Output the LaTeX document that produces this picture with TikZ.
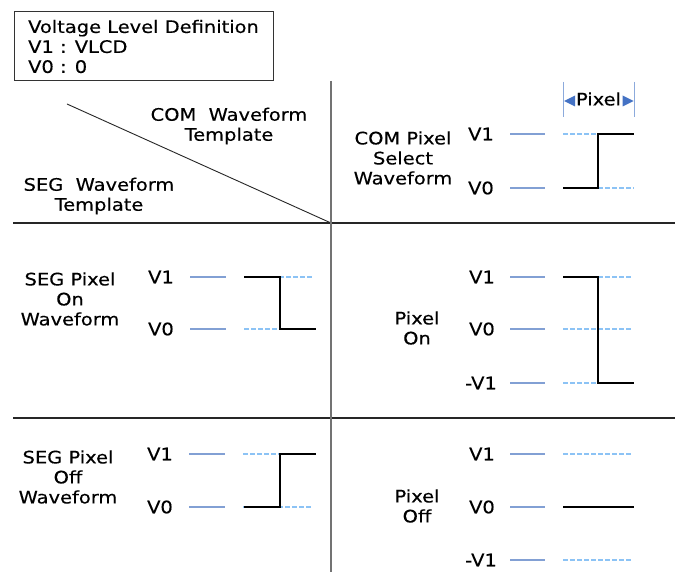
\documentclass[tikz,border=0pt]{standalone}
\usepackage{fontspec}
\setmainfont{DejaVu Sans}[FakeStretch=1.13,FakeBold=0.35]
\begin{document}
\begin{tikzpicture}[x=1pt,y=-1pt,
  txt/.style={font=\fontsize{17.2}{20}\selectfont, inner sep=0pt, align=center, text=black},
  lvl/.style={txt, anchor=east},
  refline/.style={line width=1.4pt, color={rgb,255:red,130;green,160;blue,212}},
  dashref/.style={line width=1.2pt, color={rgb,255:red,140;green,195;blue,245}, dash pattern=on 4.5pt off 2.5pt},
  wave/.style={line width=1.8pt, black},
  divider/.style={line width=1.2pt, black!85},
  vdivider/.style={line width=1.8pt, black!55},
  pixmark/.style={line width=0.9pt, color={rgb,255:red,140;green,170;blue,220}},
  tri/.style={fill={rgb,255:red,68;green,114;blue,196}, draw=none}
]
\useasboundingbox[fill=white] (0,0) rectangle (675,572);

% legend box
\node[txt, draw=black!80, line width=1pt, align=left, minimum width=259pt, minimum height=69pt, inner xsep=14pt] (legend) at (143.5,46.5)
  {Voltage Level Definition\\V1 : VLCD\\V0 : 0};

% dividers
\coordinate (vtop) at (331,81);
\coordinate (vbot) at (331,572);
\coordinate (h1l) at (13,223);
\coordinate (h1r) at (675,223);
\coordinate (h2l) at (13,418);
\coordinate (h2r) at (675,418);
\coordinate (dgs) at (67,104);
\coordinate (dge) at (331,223);
\draw[divider] (h1l) -- (h1r);
\draw[divider] (h2l) -- (h2r);
\draw[line width=0.9pt, black!85] (dgs) -- (dge);
\draw[vdivider] (vtop) -- (vbot);

% corner headings
\node[txt] (comtpl) at (229,126) {COM\ \ Waveform\\Template};
\node[txt] (segtpl) at (99,196) {SEG\ \ Waveform\\Template};

% ---------- COM pixel select ----------
\node[txt] (comsel) at (403,158) {COM Pixel\\Select\\Waveform};
\node[lvl] (c1) at (494,134) {V1};
\node[lvl] (c0) at (494,188) {V0};
\draw[refline] (510,134) -- (545,134);
\draw[refline] (510,188) -- (545,188);
\draw[dashref] (563,134) -- (634,134);
\draw[dashref] (563,188) -- (634,188);
\draw[wave] (563,188) -- (598,188) -- (598,134) -- (634,134);
% pixel marker
\draw[pixmark] (563.5,82) -- (563.5,117);
\draw[pixmark] (634,82) -- (634,117);
\node[txt] (pix) at (598.5,99) {Pixel};
\fill[tri] (564,101) -- (575,95.5) -- (575,106.5) -- cycle;
\fill[tri] (633.5,101) -- (622.5,95.5) -- (622.5,106.5) -- cycle;

% ---------- SEG pixel on ----------
\node[txt] (segon) at (70,299) {SEG Pixel\\On\\Waveform};
\node[lvl] (s1) at (174,277) {V1};
\node[lvl] (s0) at (174,329) {V0};
\draw[refline] (190,277) -- (226,277);
\draw[refline] (190,329) -- (226,329);
\draw[dashref] (244,277) -- (313,277);
\draw[dashref] (244,329) -- (313,329);
\draw[wave] (244,277) -- (280,277) -- (280,329) -- (316,329);

% ---------- Pixel on ----------
\node[txt] (pon) at (417,328) {Pixel\\On};
\node[lvl] (p1) at (495,277) {V1};
\node[lvl] (p0) at (495,329) {V0};
\node[lvl] (pm) at (497,383) {-V1};
\draw[refline] (510,277) -- (545,277);
\draw[refline] (510,329) -- (545,329);
\draw[refline] (510,383) -- (545,383);
\draw[dashref] (563,277) -- (633,277);
\draw[dashref] (563,329) -- (633,329);
\draw[dashref] (563,383) -- (633,383);
\draw[wave] (563,277) -- (598,277) -- (598,383) -- (634,383);

% ---------- SEG pixel off ----------
\node[txt] (segoff) at (68,477) {SEG Pixel\\Off\\Waveform};
\node[lvl] (t1) at (173,454) {V1};
\node[lvl] (t0) at (173,507) {V0};
\draw[refline] (189,454) -- (225,454);
\draw[refline] (189,507) -- (225,507);
\draw[dashref] (243,454) -- (313,454);
\draw[dashref] (243,507) -- (313,507);
\draw[wave] (244,507) -- (280,507) -- (280,454) -- (316,454);

% ---------- Pixel off ----------
\node[txt] (poff) at (417,506) {Pixel\\Off};
\node[lvl] (q1) at (495,454) {V1};
\node[lvl] (q0) at (495,507) {V0};
\node[lvl] (qm) at (497,560) {-V1};
\draw[refline] (510,454) -- (545,454);
\draw[refline] (510,507) -- (545,507);
\draw[refline] (510,560) -- (545,560);
\draw[dashref] (563,454) -- (633,454);
\draw[dashref] (563,560) -- (633,560);
\draw[wave] (563,507) -- (634,507);
\end{tikzpicture}
\end{document}
